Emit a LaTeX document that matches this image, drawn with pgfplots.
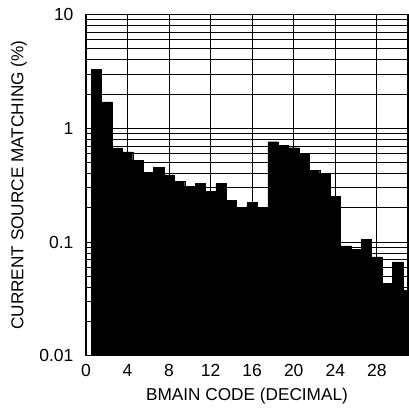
\documentclass[border=0pt]{standalone}
\usepackage{pgfplots}
\pgfplotsset{compat=1.18}
\usepackage{fontspec}
\setmainfont{Liberation Sans}
\begin{document}
\begin{tikzpicture}
\begin{axis}[
    at={(0,0)}, anchor=south west,
    width=322pt, height=341pt, scale only axis,
    ymode=log, log origin y=infty,
    xmin=0, xmax=31, ymin=0.01, ymax=10,
    xtick={0,4,8,12,16,20,24,28},
    xticklabels={0,4,8,12,16,20,24,28},
    ytick={0.01,0.1,1,10},
    yticklabels={0.01,0.1,1,10},
    xmajorgrids, ymajorgrids, yminorgrids,
    grid style={black, line width=0.9pt},
    minor grid style={black, line width=0.9pt},
    axis line style={black, line width=1.2pt},
    tick style={draw=none},
    ticklabel style={font=\fontsize{17.5}{19}\selectfont},
    label style={font=\fontsize{17.2}{19}\selectfont},
    xticklabel style={yshift=-5pt},
    yticklabel style={xshift=-9pt},
    xlabel={BMAIN CODE (DECIMAL)},
    ylabel={CURRENT SOURCE MATCHING (\%)},
    xlabel style={at={(axis description cs:0.5,0)}, anchor=center, yshift=-40pt},
    ylabel style={at={(axis description cs:0,0.5)}, anchor=center, yshift=67pt},
]
\addplot[ybar, bar width=1, fill=black, draw=black, line width=0.3pt]
coordinates {
(1,3.3) (2,1.71) (3,0.672) (4,0.62) (5,0.525) (6,0.413) (7,0.453) (8,0.389)
(9,0.34) (10,0.311) (11,0.328) (12,0.281) (13,0.328) (14,0.232) (15,0.203)
(16,0.223) (17,0.203) (18,0.764) (19,0.712) (20,0.676) (21,0.60) (22,0.428)
(23,0.40) (24,0.254) (25,0.0925) (26,0.0865) (27,0.106) (28,0.074)
(29,0.0435) (30,0.067) (31,0.0374)
};
\end{axis}
\pgfresetboundingbox
\useasboundingbox (-86pt,-60.3pt) rectangle (322pt,355.7pt);
\end{tikzpicture}
\end{document}
